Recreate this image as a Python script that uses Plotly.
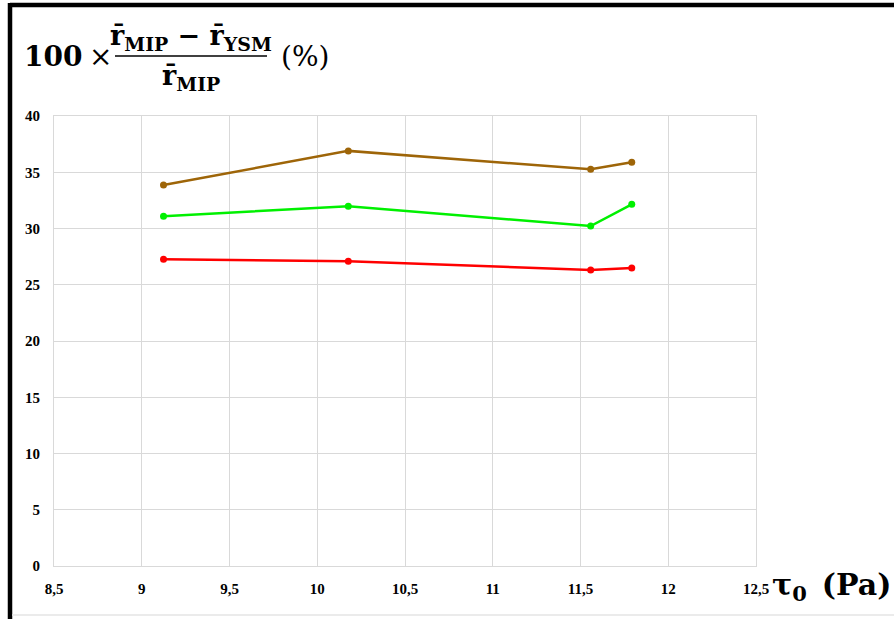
import plotly.graph_objects as go

# Yield stress tau_0 (Pa) and relative deviation of mean radius (%)
tau0 = [9.124, 10.177, 11.558, 11.792]
series_brown = [33.87, 36.90, 35.26, 35.88]
series_green = [31.10, 31.97, 30.22, 32.15]
series_red = [27.26, 27.10, 26.31, 26.49]

x_ticks = [8.5, 9, 9.5, 10, 10.5, 11, 11.5, 12, 12.5]
y_ticks = [0, 5, 10, 15, 20, 25, 30, 35, 40]

W, H = 894, 619
L, R, T, B = 54, 756, 116, 566


def px_x(p):
    return (p - L) / (R - L)


def px_y(p):
    return (B - p) / (B - T)


fig = go.Figure()
for ys, col in [(series_brown, "#9E6508"), (series_green, "#00F000"), (series_red, "#FF0000")]:
    fig.add_trace(go.Scatter(
        x=tau0, y=ys, mode="lines+markers",
        line=dict(color=col, width=2.5),
        marker=dict(color=col, size=7),
        showlegend=False,
    ))

grid = "#d9d9d9"
tickfont = dict(family="Liberation Serif, serif", size=15, color="#000000", weight="bold")
fig.update_xaxes(
    range=[8.5, 12.5], tickvals=x_ticks, tickformat=".1~f",
    showgrid=True, gridcolor=grid, gridwidth=1,
    showline=True, linecolor=grid, mirror=True, zeroline=False,
    ticks="outside", ticklen=9, tickcolor="rgba(0,0,0,0)",
    tickfont=tickfont,
)
fig.update_yaxes(
    range=[0, 40], tickvals=y_ticks,
    showgrid=True, gridcolor=grid, gridwidth=1,
    showline=True, linecolor=grid, mirror=True, zeroline=False,
    ticks="outside", ticklen=10, tickcolor="rgba(0,0,0,0)",
    tickfont=tickfont,
)

serif = "DejaVu Serif, serif"
big = dict(family=serif, size=28, color="#000000", weight="bold")
frac = dict(family=serif, size=27, color="#000000", weight="bold")
plain = dict(family=serif, size=28, color="#000000")
anns = [
    dict(x=px_x(22), y=px_y(57), text="100", xanchor="left", yanchor="middle", font=big),
    dict(x=px_x(87), y=px_y(57), text="×", xanchor="left", yanchor="middle", font=plain),
    dict(x=px_x(191), y=px_y(37), text="r\u0304<sub>MIP</sub> − r\u0304<sub>YSM</sub>",
         xanchor="center", yanchor="middle", font=frac),
    dict(x=px_x(191), y=px_y(78), text="r\u0304<sub>MIP</sub>",
         xanchor="center", yanchor="middle", font=frac),
    dict(x=px_x(279), y=px_y(57), text="(%)", xanchor="left", yanchor="middle", font=plain),
    dict(x=px_x(770), y=px_y(586), text="τ<sub>0</sub>\u2002(Pa)", xanchor="left", yanchor="middle",
         font=dict(family=serif, size=30, color="#000000", weight="bold")),
]
for a in anns:
    a.update(xref="paper", yref="paper", showarrow=False)
fig.update_layout(annotations=anns)

shapes = [
    # fraction bar
    dict(type="line", x0=px_x(115), x1=px_x(267), y0=px_y(56), y1=px_y(56),
         line=dict(color="#000000", width=1.5)),
    # frame
    dict(type="line", x0=px_x(10), x1=px_x(900), y0=px_y(5), y1=px_y(5),
         line=dict(color="#000000", width=4.5)),
    dict(type="line", x0=px_x(10), x1=px_x(10), y0=px_y(3), y1=px_y(625),
         line=dict(color="#000000", width=4.5)),
    dict(type="line", x0=px_x(12), x1=px_x(900), y0=px_y(615), y1=px_y(615),
         line=dict(color="#e4e4e4", width=1.5)),
]
for s in shapes:
    s.update(xref="paper", yref="paper", layer="above")
fig.update_layout(shapes=shapes)

fig.update_layout(
    width=W, height=H,
    margin=dict(l=L, r=W - R, t=T, b=H - B),
    paper_bgcolor="#ffffff", plot_bgcolor="#ffffff",
    separators=", ",
)

fig.write_html("out.html", config={"displayModeBar": False})
